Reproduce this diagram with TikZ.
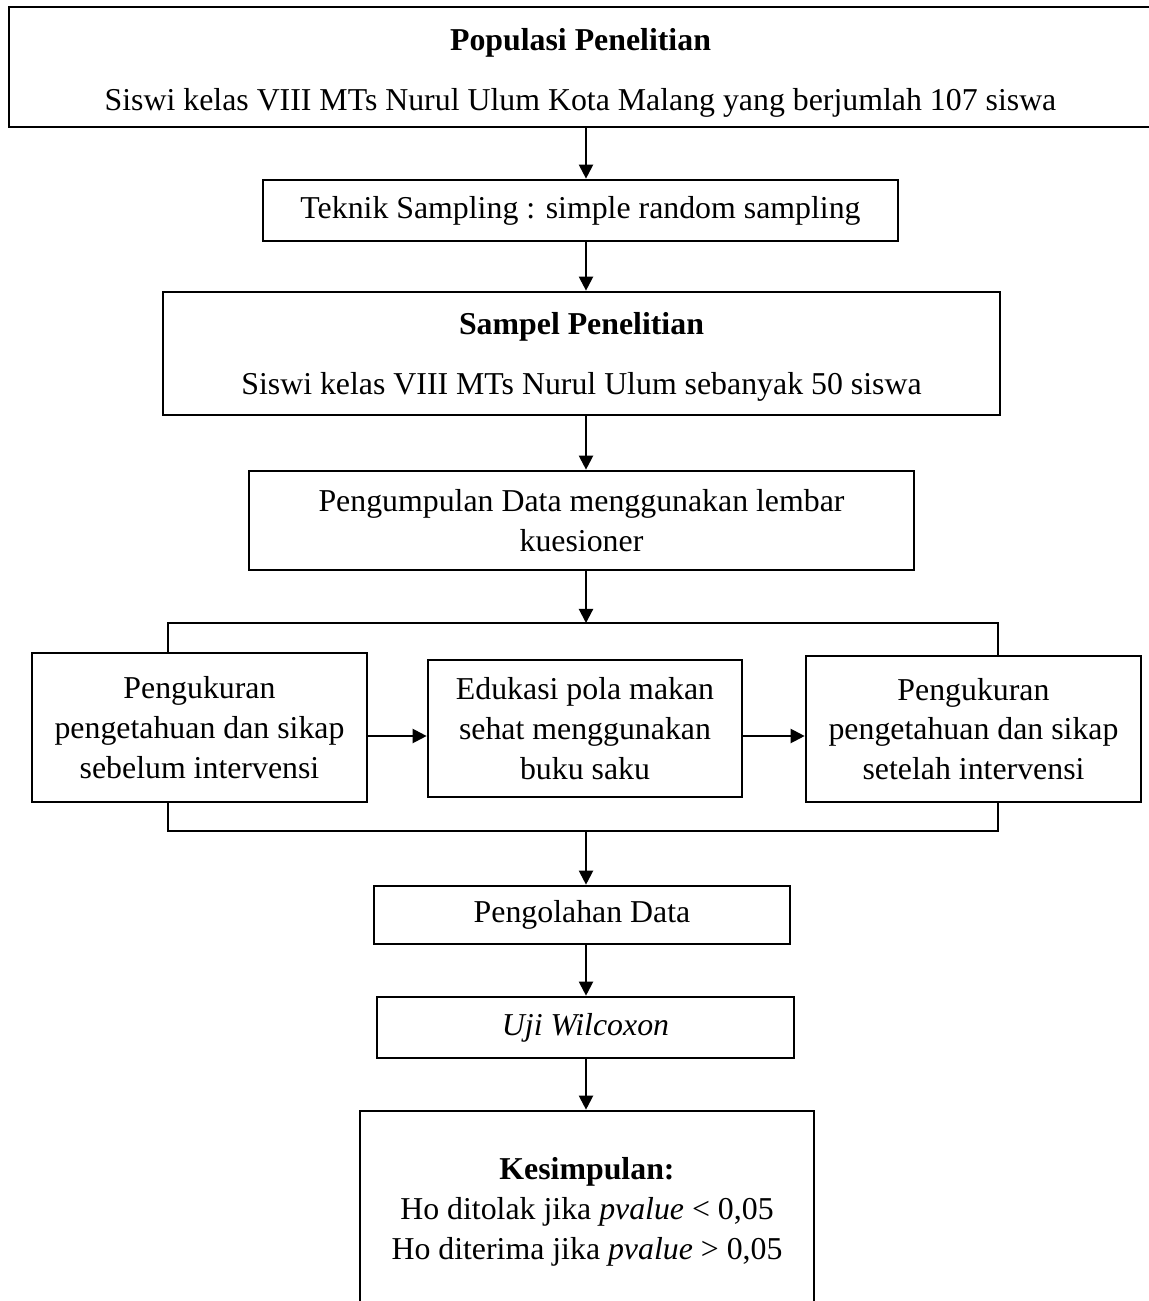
\documentclass[tikz,border=0pt]{standalone}
\usepackage{fontspec}
\setmainfont{Liberation Serif}
\usetikzlibrary{arrows.meta}
\tikzset{
  BoxStyle/.style = { draw, line width = 1pt, inner sep = 0pt, align = center,
    font = \fontsize{12}{15}\selectfont },
  BoxSize/.style 2 args = { minimum width = #1*0.377pt, minimum height = #2*0.377pt },
  ArrowStyle/.style = { line width = 0.8pt, -{Triangle[length = 5.3pt, width = 5.3pt]} },
  LineStyle/.style = { line width = 0.9pt } }

\begin{document}
\begin{tikzpicture}[x = 0.377pt, y = -0.377pt]
  \useasboundingbox (0,0) rectangle (1149,1301);
  \node[BoxStyle, BoxSize = {1143}{120}] (pop) at (580.5,67)
    {\rule{0pt}{12.7pt}\textbf{Populasi Penelitian}\\[7.6pt]Siswi kelas VIII MTs Nurul Ulum Kota Malang yang berjumlah 107 siswa};
  \node[BoxStyle, BoxSize = {635}{61}] (tek) at (580.5,210.5)
    {Teknik Sampling : simple random sampling};
  \node[BoxStyle, BoxSize = {837}{123}] (sam) at (581.5,353.5)
    {\rule{0pt}{11.2pt}\textbf{Sampel Penelitian}\\[7.6pt]Siswi kelas VIII MTs Nurul Ulum sebanyak 50 siswa};
  \node[BoxStyle, BoxSize = {665}{99}] (kum) at (581.5,520.5)
    {Pengumpulan Data menggunakan lembar\\kuesioner};
  \node[BoxStyle, BoxSize = {335}{149}] (pre) at (199.5,727.5)
    {Pengukuran\\pengetahuan dan sikap\\sebelum intervensi};
  \node[BoxStyle, BoxSize = {314}{137}] (edu) at (585,728.5)
    {Edukasi pola makan\\sehat menggunakan\\buku saku};
  \node[BoxStyle, BoxSize = {335}{146}] (post) at (973.5,729)
    {Pengukuran\\pengetahuan dan sikap\\setelah intervensi};
  \node[BoxStyle, BoxSize = {416}{58}] (olah) at (582,915) {Pengolahan Data};
  \node[BoxStyle, BoxSize = {417}{61}] (uji) at (585.5,1027.5) {\textit{Uji Wilcoxon}};
  \node[BoxStyle, BoxSize = {454}{202}] (simp) at (587,1212)
    {\textbf{Kesimpulan:}\\Ho ditolak jika \textit{pvalue} < 0,05\\Ho diterima jika \textit{pvalue} > 0,05};
  \coordinate (ax) at (586,0);
  \coordinate (mid) at (0,736);
  \coordinate (tl) at (168,623);
  \coordinate (tr) at (998,623);
  \coordinate (bl) at (168,831);
  \coordinate (br) at (998,831);
  \draw[ArrowStyle] (pop.south -| ax) -- (tek.north -| ax);
  \draw[ArrowStyle] (tek.south -| ax) -- (sam.north -| ax);
  \draw[ArrowStyle] (sam.south -| ax) -- (kum.north -| ax);
  \draw[ArrowStyle] (kum.south -| ax) -- (tl -| ax);
  \draw[LineStyle] (pre.north -| tl) -- (tl) -- (tr) -- (post.north -| tr);
  \draw[ArrowStyle] (pre.east |- mid) -- (edu.west |- mid);
  \draw[ArrowStyle] (edu.east |- mid) -- (post.west |- mid);
  \draw[LineStyle] (pre.south -| bl) -- (bl) -- (br) -- (post.south -| br);
  \draw[ArrowStyle] (bl -| ax) -- (olah.north -| ax);
  \draw[ArrowStyle] (olah.south -| ax) -- (uji.north -| ax);
  \draw[ArrowStyle] (uji.south -| ax) -- (simp.north -| ax);
\end{tikzpicture}
\end{document}
